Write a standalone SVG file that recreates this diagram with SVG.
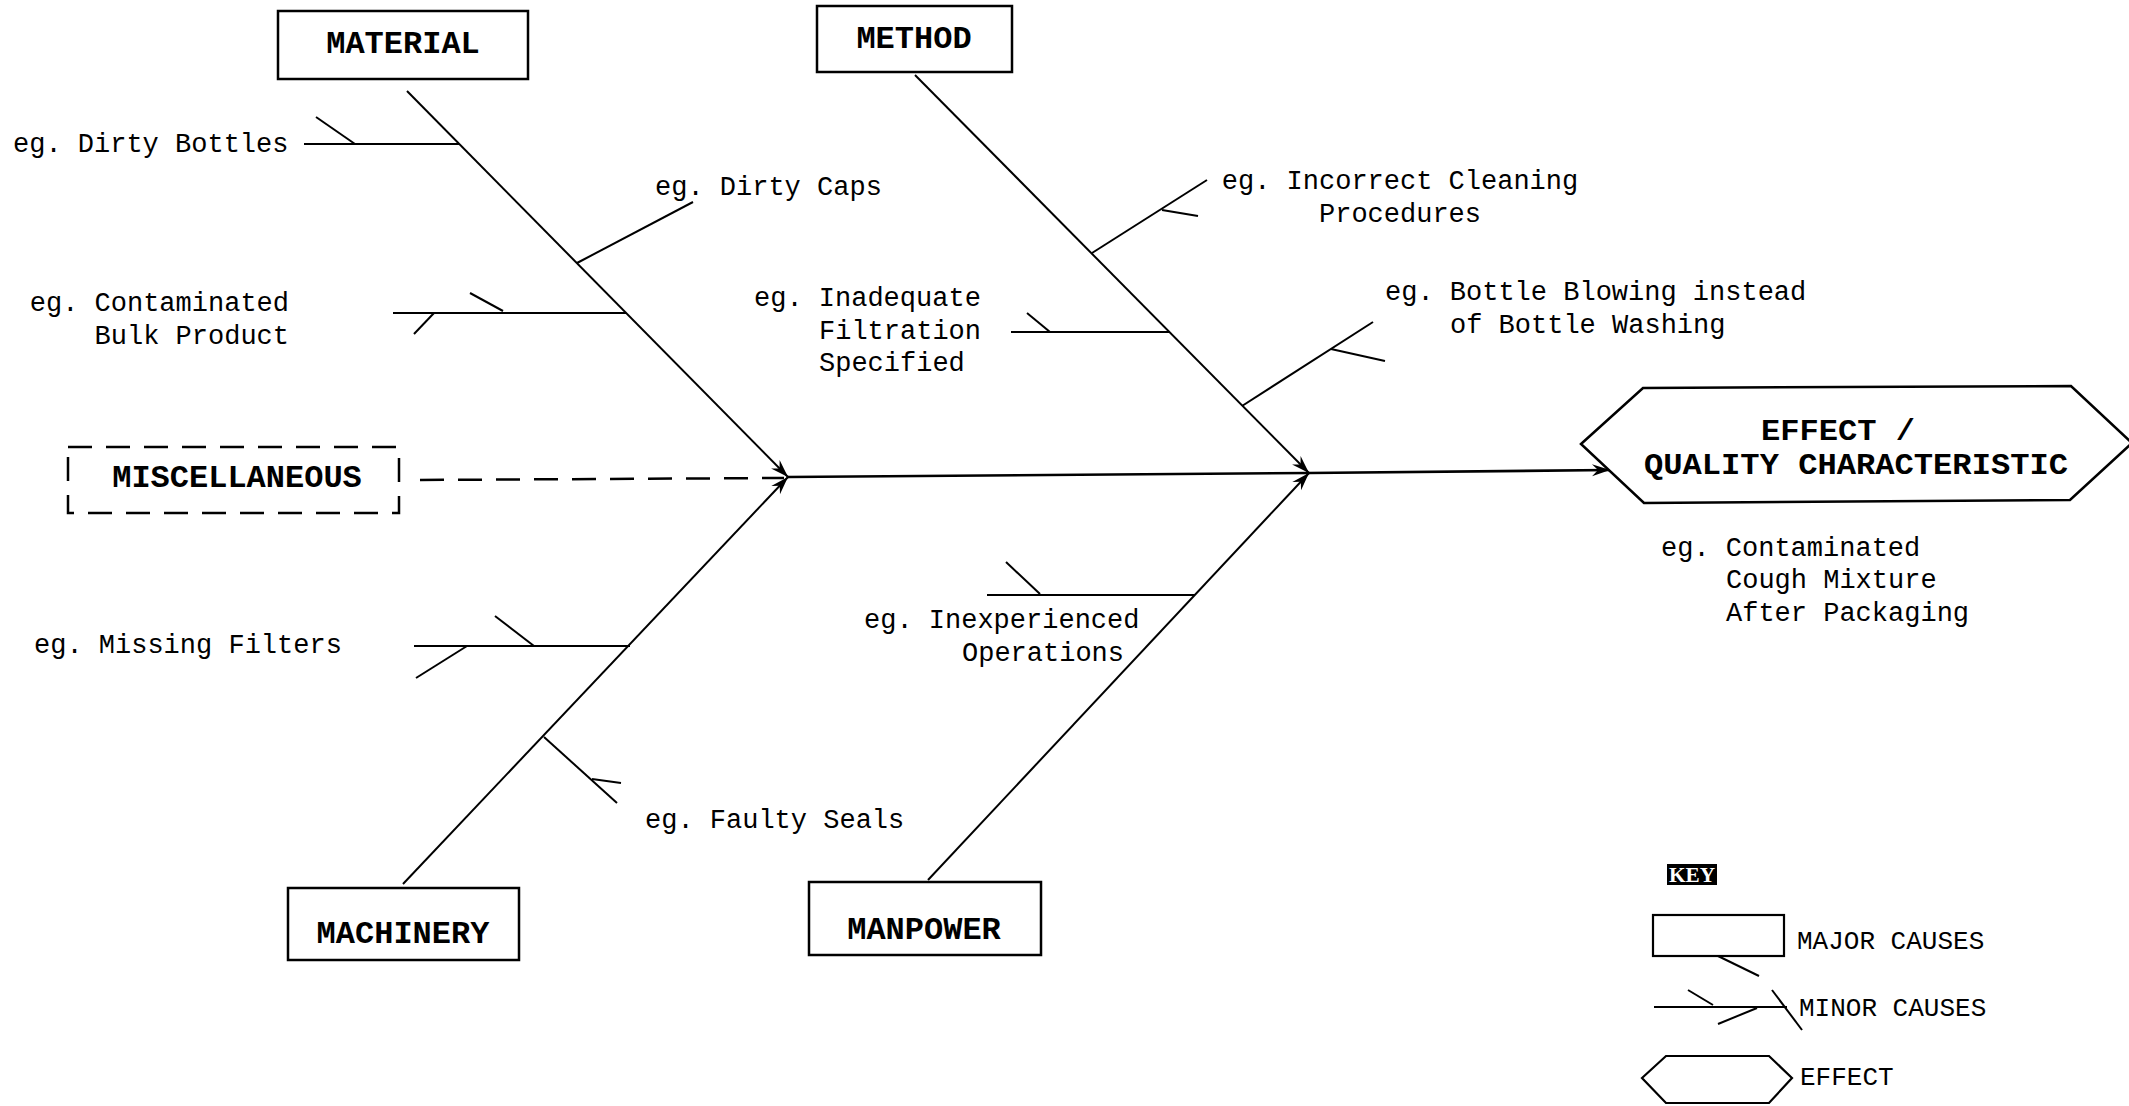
<svg xmlns="http://www.w3.org/2000/svg" width="2129" height="1106" viewBox="0 0 2129 1106">
  <style>
    .box { fill: #fff; stroke: #000; stroke-width: 2.5; }
    .dash { fill: none; stroke: #000; stroke-width: 2.5; stroke-dasharray: 24 14; }
    .major { font-family: "Liberation Mono", "DejaVu Sans Mono", monospace; font-weight: bold; font-size: 32px; fill: #000; }
    .eff { font-family: "Liberation Mono", "DejaVu Sans Mono", monospace; font-weight: bold; font-size: 29px; fill: #000; }
    .lbl { font-family: "Liberation Mono", "DejaVu Sans Mono", monospace; font-size: 27px; fill: #000; }
    .keytxt { font-family: "Liberation Mono", "DejaVu Sans Mono", monospace; font-size: 26px; fill: #000; }
    .bone { fill: none; stroke: #000; stroke-width: 2; }
    .spine { fill: none; stroke: #000; stroke-width: 2.6; }
    .twig { fill: none; stroke: #000; stroke-width: 2; }
  </style>
  <defs>
    <marker id="arr" viewBox="-20 -8 22 16" refX="0" refY="0" markerWidth="22" markerHeight="16" orient="auto" markerUnits="userSpaceOnUse">
      <path d="M0,0 L-18,-6 L-12,0 L-18,6 Z" fill="#000"/>
    </marker>
  </defs>

  <rect width="2129" height="1106" fill="#fff"/>

  <!-- connectors: spine, major bones and minor-cause branches -->
  <g id="connectors">
    <line class="dash" x1="420" y1="480" x2="784" y2="478"/>
    <polyline class="spine" points="788,477 1309,473 1610,470" marker-end="url(#arr)"/>
    <line class="bone" x1="407" y1="91" x2="788" y2="477" marker-end="url(#arr)"/>
    <line class="bone" x1="403" y1="884" x2="788" y2="477" marker-end="url(#arr)"/>
    <line class="bone" x1="915" y1="75" x2="1309" y2="473" marker-end="url(#arr)"/>
    <line class="bone" x1="928" y1="880" x2="1309" y2="473" marker-end="url(#arr)"/>

    <!-- material branches -->
    <line class="twig" x1="304" y1="144" x2="459" y2="144"/>
    <line class="twig" x1="316" y1="117" x2="355" y2="144"/>
    <line class="twig" x1="577" y1="263" x2="693" y2="202"/>
    <line class="twig" x1="393" y1="313" x2="626" y2="313"/>
    <line class="twig" x1="470" y1="293" x2="503" y2="311"/>
    <line class="twig" x1="434" y1="313" x2="414" y2="334"/>

    <!-- method branches -->
    <line class="twig" x1="1011" y1="332" x2="1170" y2="332"/>
    <line class="twig" x1="1027" y1="313" x2="1050" y2="332"/>
    <line class="twig" x1="1092" y1="253" x2="1207" y2="180"/>
    <line class="twig" x1="1162" y1="210" x2="1198" y2="216"/>
    <line class="twig" x1="1242" y1="406" x2="1373" y2="322"/>
    <line class="twig" x1="1331" y1="349" x2="1385" y2="361"/>

    <!-- machinery branches -->
    <line class="twig" x1="414" y1="646" x2="630" y2="646"/>
    <line class="twig" x1="495" y1="616" x2="534" y2="646"/>
    <line class="twig" x1="467" y1="646" x2="416" y2="678"/>
    <line class="twig" x1="544" y1="737" x2="617" y2="803"/>
    <line class="twig" x1="592" y1="779" x2="621" y2="783"/>

    <!-- manpower branch -->
    <line class="twig" x1="987" y1="595" x2="1195" y2="595"/>
    <line class="twig" x1="1006" y1="562" x2="1040" y2="594"/>
  </g>

  <!-- major cause boxes -->
  <g id="material">
    <rect class="box" x="278" y="11" width="250" height="68"/>
    <text class="major" x="403" y="53" text-anchor="middle">MATERIAL</text>
  </g>
  <g id="method">
    <rect class="box" x="817" y="6" width="195" height="66"/>
    <text class="major" x="914" y="48" text-anchor="middle">METHOD</text>
  </g>
  <g id="miscellaneous">
    <rect class="dash" x="68" y="447" width="331" height="66"/>
    <text class="major" x="237" y="487" text-anchor="middle">MISCELLANEOUS</text>
  </g>
  <g id="machinery">
    <rect class="box" x="288" y="888" width="231" height="72"/>
    <text class="major" x="403" y="943" text-anchor="middle">MACHINERY</text>
  </g>
  <g id="manpower">
    <rect class="box" x="809" y="882" width="232" height="73"/>
    <text class="major" x="924" y="939" text-anchor="middle">MANPOWER</text>
  </g>

  <!-- effect -->
  <g id="effect">
    <polygon class="box" points="1581,444 1643,388 2071,386 2132,443 2070,500 1644,503"/>
    <text class="eff" x="1761" y="440" textLength="154" lengthAdjust="spacingAndGlyphs">EFFECT /</text>
    <text class="eff" x="1644" y="474" textLength="424" lengthAdjust="spacingAndGlyphs">QUALITY CHARACTERISTIC</text>
    <text class="lbl" x="1661" y="556">eg. Contaminated</text>
    <text class="lbl" x="1726" y="588">Cough Mixture</text>
    <text class="lbl" x="1726" y="621">After Packaging</text>
  </g>

  <!-- minor cause labels -->
  <g id="dirty-bottles"><text class="lbl" x="13" y="152">eg. Dirty Bottles</text></g>
  <g id="dirty-caps"><text class="lbl" x="655" y="195">eg. Dirty Caps</text></g>
  <g id="contaminated-bulk">
    <text class="lbl" x="289" y="311" text-anchor="end">eg. Contaminated</text>
    <text class="lbl" x="289" y="344" text-anchor="end">Bulk Product</text>
  </g>
  <g id="inadequate-filtration">
    <text class="lbl" x="754" y="306">eg. Inadequate</text>
    <text class="lbl" x="819" y="339">Filtration</text>
    <text class="lbl" x="819" y="371">Specified</text>
  </g>
  <g id="incorrect-cleaning">
    <text class="lbl" x="1400" y="189" text-anchor="middle">eg. Incorrect Cleaning</text>
    <text class="lbl" x="1400" y="222" text-anchor="middle">Procedures</text>
  </g>
  <g id="bottle-blowing">
    <text class="lbl" x="1385" y="300">eg. Bottle Blowing instead</text>
    <text class="lbl" x="1450" y="333">of Bottle Washing</text>
  </g>
  <g id="missing-filters"><text class="lbl" x="34" y="653">eg. Missing Filters</text></g>
  <g id="faulty-seals"><text class="lbl" x="645" y="828">eg. Faulty Seals</text></g>
  <g id="inexperienced">
    <text class="lbl" x="864" y="628">eg. Inexperienced</text>
    <text class="lbl" x="962" y="661">Operations</text>
  </g>

  <!-- key -->
  <g id="key">
    <rect x="1667" y="864" width="50" height="21" fill="#000"/>
    <text x="1692" y="882" text-anchor="middle" font-family="Liberation Serif, serif" font-weight="bold" font-size="20" fill="#fff" textLength="46" lengthAdjust="spacingAndGlyphs">KEY</text>
    <rect x="1653" y="915" width="131" height="41" fill="none" stroke="#000" stroke-width="2.2"/>
    <line class="twig" x1="1718" y1="956" x2="1759" y2="976"/>
    <text class="keytxt" x="1797" y="949">MAJOR CAUSES</text>
    <line class="twig" x1="1654" y1="1007" x2="1787" y2="1007"/>
    <line class="twig" x1="1688" y1="990" x2="1713" y2="1005"/>
    <line class="twig" x1="1718" y1="1024" x2="1757" y2="1008"/>
    <line class="twig" x1="1772" y1="990" x2="1802" y2="1030"/>
    <text class="keytxt" x="1799" y="1016">MINOR CAUSES</text>
    <polygon points="1642,1078 1666,1056 1769,1056 1792,1078 1769,1103 1666,1103" fill="none" stroke="#000" stroke-width="2.2"/>
    <text class="keytxt" x="1800" y="1085">EFFECT</text>
  </g>
</svg>
